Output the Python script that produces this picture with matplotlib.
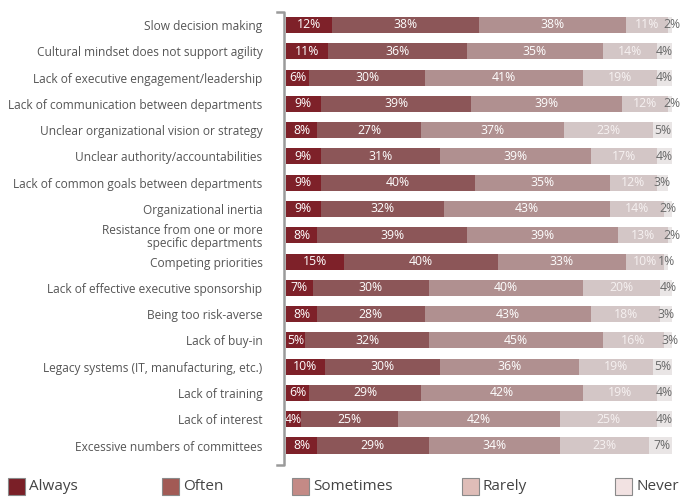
import matplotlib
matplotlib.use("Agg")
import matplotlib.pyplot as plt
import numpy as np
from matplotlib.patches import Rectangle
from matplotlib.lines import Line2D

plt.rcParams['font.family'] = ['Open Sans', 'DejaVu Sans']

# ---- data
barriers = [
    "Slow decision making",
    "Cultural mindset does not support agility",
    "Lack of executive engagement/leadership",
    "Lack of communication between departments",
    "Unclear organizational vision or strategy",
    "Unclear authority/accountabilities",
    "Lack of common goals between departments",
    "Organizational inertia",
    "Resistance from one or more\nspecific departments",
    "Competing priorities",
    "Lack of effective executive sponsorship",
    "Being too risk-averse",
    "Lack of buy-in",
    "Legacy systems (IT, manufacturing, etc.)",
    "Lack of training",
    "Lack of interest",
    "Excessive numbers of committees",
]
always    = [12, 11, 6, 9, 8, 9, 9, 9, 8, 15, 7, 8, 5, 10, 6, 4, 8]
often     = [38, 36, 30, 39, 27, 31, 40, 32, 39, 40, 30, 28, 32, 30, 29, 25, 29]
sometimes = [38, 35, 41, 39, 37, 39, 35, 43, 39, 33, 40, 43, 45, 36, 42, 42, 34]
rarely    = [11, 14, 19, 12, 23, 17, 12, 14, 13, 10, 20, 18, 16, 19, 19, 25, 23]
never     = [2, 4, 4, 2, 5, 4, 3, 2, 2, 1, 4, 3, 3, 5, 4, 4, 7]

series = ["Always", "Often", "Sometimes", "Rarely", "Never"]
bar_colors = ["#7e2129", "#8c5658", "#b09090", "#d3c6c6", "#e9e5e5"]
key_colors = ["#7a1f27", "#a25a55", "#c48a86", "#dfbdb8", "#f2e2e2"]
text_colors = ["white", "white", "white", "#f6f1f1", "#6a6a6a"]

W, H = 683, 497
fig = plt.figure(figsize=(W / 100, H / 100), dpi=100)

# rows are 26.3px apart, first centred at y=25
n = len(barriers)
top_px = 25 - 13.15
bot_px = 445.5 + 13.15
ax = fig.add_axes([286 / W, 1 - bot_px / H, (672 - 286) / W, (bot_px - top_px) / H])

y = np.arange(n)
left = np.zeros(n)
for vals, col, tcol in zip([always, often, sometimes, rarely, never], bar_colors, text_colors):
    vals = np.array(vals, dtype=float)
    ax.barh(y, vals, left=left, height=0.61, color=col, edgecolor="none")
    for yi, (l, v) in enumerate(zip(left, vals)):
        ax.text(l + v / 2, yi, f"{int(v)}%", ha="center", va="center",
                color=tcol, fontsize=8.8)
    left += vals

ax.set_xlim(0, 100)
ax.set_ylim(n - 0.5, -0.5)
ax.set_yticks(y)
ax.set_yticklabels(barriers, fontsize=8.6, color="#555555", linespacing=1.05)
ax.tick_params(axis="y", length=0, pad=17)
ax.set_xticks([])
for s in ax.spines.values():
    s.set_visible(False)

# bracket along the category axis
bx = 284 / W
bx0 = 277 / W
yt = 1 - 12 / H
yb = 1 - 465 / H
fig.add_artist(Line2D([bx0, bx, bx, bx0], [yt, yt, yb, yb], color="#9a9a9a", lw=1.8,
                      transform=fig.transFigure))

# legend row along the bottom
key_x = [8, 162, 292, 462, 615]
for name, kc, kx in zip(series, key_colors, key_x):
    fig.add_artist(Rectangle((kx / W, 1 - 495 / H), 17 / W, 17 / H, facecolor=kc,
                             edgecolor="#8a8a8a", lw=0.8, transform=fig.transFigure))
    fig.text((kx + 21) / W, 1 - 487 / H, name, ha="left", va="center",
             fontsize=11, color="#444444")

fig.savefig("out.png", dpi=100)
